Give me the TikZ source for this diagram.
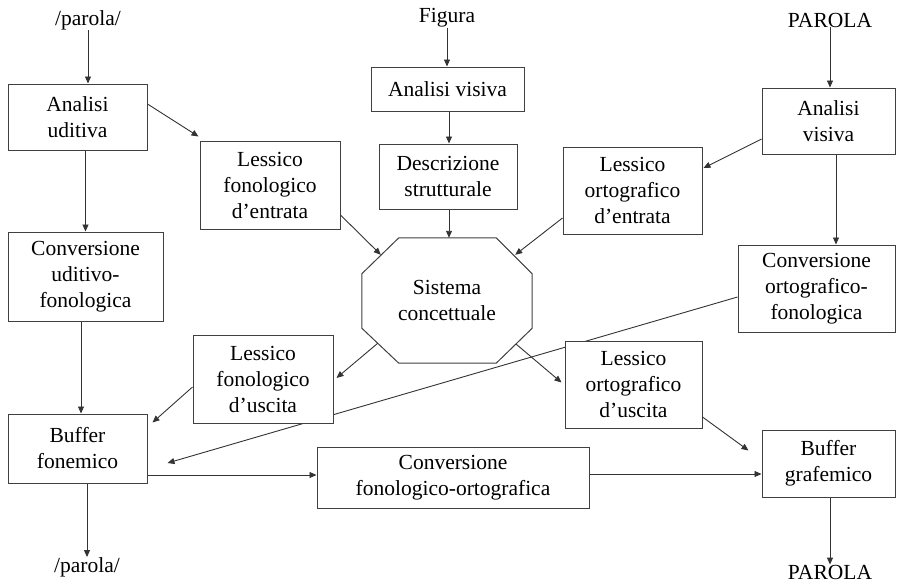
\documentclass[tikz,border=0pt]{standalone}
\usepackage{fontspec}
\setmainfont{Liberation Serif}
\usetikzlibrary{arrows.meta,calc,backgrounds}
\begin{document}
\begin{tikzpicture}[x=1pt,y=-1pt,
  txt/.style={inner sep=0pt, align=center, font=\fontsize{21.5}{26}\selectfont},
  box/.style={txt, draw=black!75, line width=1pt, fill=white},
  wh/.style 2 args={minimum width=#1pt, minimum height=#2pt},
  arr/.style={draw=black!80, line width=0.9pt, -{Triangle[length=7pt,width=6pt]}}]
\useasboundingbox (0,0) rectangle (898,582);
% texts
\node[txt] (t1) at (88,20) {/parola/};
\node[txt] (t2) at (447,18) {Figura};
\node[txt] (t3) at (830,20) {PAROLA};
\node[txt] (t4) at (87,567) {/parola/};
\node[txt] (t5) at (830,572) {PAROLA};
% boxes
\node[box, wh={139}{66}] (au) at (77.5,117) {Analisi\\uditiva};
\node[box, wh={140}{88}] (lfe) at (270,185) {Lessico\\fonologico\\d’entrata};
\node[box, wh={155}{89}] (cuf) at (85.5,276.5) {Conversione\\uditivo-\\fonologica};
\node[box, wh={153}{44}] (av) at (447.5,89) {Analisi visiva};
\node[box, wh={138}{65}] (ds) at (448,176.5) {Descrizione\\strutturale};
\node[txt, wh={170}{125}] (sc) at (447,300.5) {Sistema\\concettuale};
\node[box, wh={133}{66}] (avr) at (828.5,121) {Analisi\\visiva};
\node[box, wh={139}{87}] (loe) at (632.5,190.5) {Lessico\\ortografico\\d’entrata};
\node[box, wh={157}{87}] (cof) at (816.5,288.5) {Conversione\\ortografico-\\fonologica};
\node[box, wh={140}{88}] (lfu) at (263,379) {Lessico\\fonologico\\d’uscita};
\node[box, wh={137}{87}] (lou) at (633.5,384.5) {Lessico\\ortografico\\d’uscita};
\node[box, wh={139}{69}] (bf) at (77.5,448.5) {Buffer\\fonemico};
\node[box, wh={272}{61}] (cfo) at (453,477.5) {Conversione\\fonologico-ortografica};
\node[box, wh={133}{67}] (bg) at (828.5,463.5) {Buffer\\grafemico};
% octagon
\draw[draw=black!75, line width=1pt]
  ($(sc.north west)+(37,0)$) -- ($(sc.north east)+(-36,0)$) -- ($(sc.north east)+(0,36)$)
  -- ($(sc.south east)+(0,-35)$) -- ($(sc.south east)+(-36,0)$) -- ($(sc.south west)+(37,0)$)
  -- ($(sc.south west)+(0,-35)$) -- ($(sc.north west)+(0,36)$) -- cycle;
\coordinate (scUL) at ($(sc.north west)+(19,17)$);
\coordinate (scUR) at ($(sc.north east)+(-17,17)$);
\coordinate (scLL) at ($(sc.south west)+(16,-20)$);
\coordinate (scLR) at ($(sc.south east)+(-16,-19)$);
\coordinate (cufS) at ($(cuf.south)+(-4.5,0)$);
\coordinate (avS) at ($(av.south)+(1.5,0)$);
\coordinate (dsS) at ($(ds.south)+(1,0)$);
\coordinate (avrS) at ($(avr.south)+(7.5,0)$);
% vertical arrows
\draw[arr] (t1.south) -- (t1.south |- au.north);
\draw[arr] (au.south -| cuf.north) -- (cuf.north);
\draw[arr] (cufS) -- (cufS |- bf.north);
\draw[arr] (bf.south -| t4.north) -- (t4.north);
\draw[arr] (t2.south) -- (t2.south |- av.north);
\draw[arr] (avS) -- (avS |- ds.north);
\draw[arr] (dsS) -- (dsS |- sc.north);
\draw[arr] (t3.south) -- (t3.south |- avr.north);
\draw[arr] (avrS) -- (avrS |- cof.north);
\draw[arr] (t5.north |- bg.south) -- (t5.north);
% horizontal arrows
\draw[arr] (bf.east |- 0,475) -- (cfo.west |- 0,475);
\draw[arr] (cfo.east |- 0,474) -- (bg.west |- 0,474);
% diagonal arrows
\draw[arr] (au.east |- 0,104) -- ($(lfe.north west)+(-1,-4)$);
\draw[arr] (lfe.east |- 0,215) -- (scUL);
\draw[arr] (loe.west |- 0,218) -- (scUR);
\draw[arr] (avr.west |- 0,139) -- ($(loe.east |- 0,168)+(1,0)$);
\draw[arr] (scLL) -- ($(lfu.east)+(3,-1)$);
\draw[arr] (scLR) -- ($(lou.west)+(-3,-2)$);
\draw[arr] (lfu.west |- 0,387) -- ($(bf.north east)+(5,9)$);
\draw[arr] (lou.east |- 0,417) -- ($(bg.north west)+(-13,21)$);
\begin{scope}[on background layer]
\draw[arr] (cof.west |- 0,297) -- ($(bf.east |- 0,463)+(20,0)$);
\end{scope}
\end{tikzpicture}
\end{document}
